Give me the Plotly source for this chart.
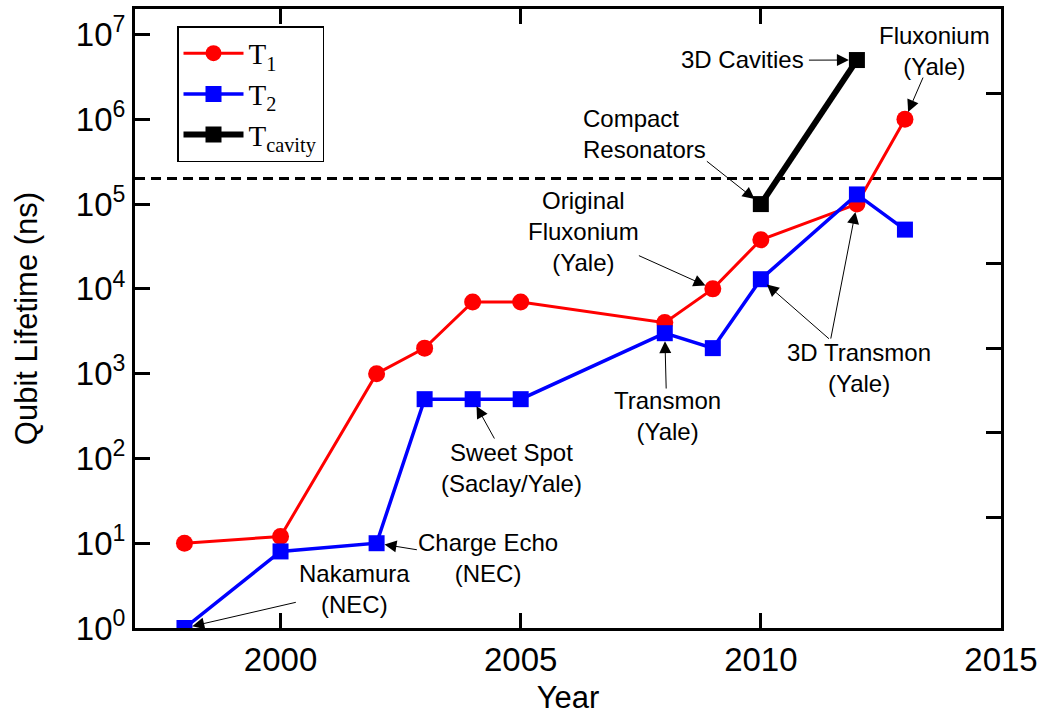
import numpy as np
import plotly.graph_objects as go

# ---------------- data ----------------
years_t1 = [1998, 2000, 2002, 2003, 2004, 2005, 2008, 2009, 2010, 2012, 2013]
t1_ns = [10, 12, 1000, 2000, 7000, 7000, 4000, 10000, 38000, 100000, 1000000]

years_t2 = [1998, 2000, 2002, 2003, 2004, 2005, 2008, 2009, 2010, 2012, 2013]
t2_ns = [1, 8, 10, 500, 500, 500, 3000, 2000, 13000, 130000, 50000]

years_cav = [2010, 2012]
tcav_ns = [100000, 5000000]

threshold_ns = 2e5

x_ticks = [2000, 2005, 2010, 2015]
y_ticks = [1, 10, 100, 1000, 1e4, 1e5, 1e6, 1e7]
y_ticktext = ["10<sup>%d</sup>" % i for i in range(8)]
right_ticks = [20, 200, 2000, 2e4, 2e5, 2e6]

x_range = [1996.97, 2015]
y_range_log = [0, np.log10(2e7)]

FONT = "Liberation Sans, Arial, sans-serif"
SERIF = "Liberation Serif, Times New Roman, serif"

fig = go.Figure()

fig.add_trace(go.Scatter(
    x=x_range, y=[threshold_ns, threshold_ns], mode="lines",
    line=dict(color="black", width=3, dash="10px,6px"),
    showlegend=False, hoverinfo="skip"))

fig.add_trace(go.Scatter(
    x=years_t1, y=t1_ns, mode="lines+markers", name="T<sub>1</sub>",
    line=dict(color="#ff0000", width=3),
    marker=dict(symbol="circle", size=17, color="#ff0000")))

fig.add_trace(go.Scatter(
    x=years_t2, y=t2_ns, mode="lines+markers", name="T<sub>2</sub>",
    line=dict(color="#0000ff", width=3.5),
    marker=dict(symbol="square", size=16, color="#0000ff")))

fig.add_trace(go.Scatter(
    x=years_cav, y=tcav_ns, mode="lines+markers", name="T<sub>cavity</sub>",
    line=dict(color="black", width=6),
    marker=dict(symbol="square", size=16, color="black")))

# invisible trace to anchor right-side tick axis
fig.add_trace(go.Scatter(x=[x_range[0]], y=[right_ticks[0]], yaxis="y2",
                         mode="markers", marker=dict(opacity=0),
                         showlegend=False, hoverinfo="skip"))

L = np.log10

# text labels: (text, x, ylog, xanchor, align)
labels = [
    ("Nakamura<br>(NEC)", 2001.55, 0.46, "center", "center"),
    ("Charge Echo<br>(NEC)", 2004.31, 0.82, "center", "center"),
    ("Sweet Spot<br>(Saclay/Yale)", 2004.80, 1.89, "center", "center"),
    ("Transmon<br>(Yale)", 2008.06, 2.50, "center", "center"),
    ("Original<br>Fluxonium<br>(Yale)", 2006.30, 4.68, "center", "center"),
    ("Compact<br>Resonators", 2006.25, 5.825, "left", "left"),
    ("3D Cavities", 2010.93, 6.70, "right", "right"),
    ("Fluxonium<br>(Yale)", 2013.62, 6.80, "center", "center"),
    ("3D Transmon<br>(Yale)", 2012.04, 3.07, "center", "center"),
]
for txt, xx, yy, xa, al in labels:
    fig.add_annotation(x=xx, y=yy, xref="x", yref="y", text=txt, showarrow=False,
                       xanchor=xa, yanchor="middle", align=al,
                       font=dict(family=FONT, size=24, color="black"))

# arrows: (tail x, tail ylog, tip x, tip value)
arrows = [
    (2000.35, 0.307, years_t2[0], t2_ns[0]),
    (2002.87, 0.92, years_t2[2], t2_ns[2]),
    (2004.47, 2.217, years_t2[4], t2_ns[4]),
    (2008.03, 2.807, years_t2[6], t2_ns[6]),
    (2007.43, 4.40, years_t1[7], t1_ns[7]),
    (2008.845, 5.519, years_cav[0], tcav_ns[0]),
    (2010.97, 6.698, years_cav[1], tcav_ns[1]),
    (2013.39, 6.51, years_t1[10], t1_ns[10]),
    (2011.45, 3.396, years_t2[8], t2_ns[8]),
    (2011.45, 3.396, years_t1[9], t1_ns[9]),
]
for tx, ty, px, pv in arrows:
    fig.add_annotation(x=px, y=L(pv), xref="x", yref="y",
                       ax=tx, ay=ty, axref="x", ayref="y", text="",
                       showarrow=True, arrowhead=2, arrowsize=2.4, arrowwidth=1,
                       arrowcolor="black", standoff=8)

fig.update_layout(
    width=1045, height=715,
    margin=dict(l=135, r=44, t=9, b=87),
    paper_bgcolor="white", plot_bgcolor="white",
    font=dict(family=FONT, size=30, color="black"),
    showlegend=True,
    legend=dict(x=0.0485, y=0.972, xanchor="left", yanchor="top",
                bgcolor="white", bordercolor="black", borderwidth=1.5,
                font=dict(family=SERIF, size=29, color="black"),
                itemwidth=60, tracegroupgap=0),
    xaxis=dict(range=x_range, tickvals=x_ticks, ticks="inside", ticklen=15,
               tickwidth=3, tickcolor="black", showline=True, linewidth=3,
               linecolor="black", mirror="ticks", showgrid=False, zeroline=False,
               automargin=False,
               tickfont=dict(size=33), title=dict(text="Year", font=dict(size=31), standoff=12)),
    yaxis=dict(type="log", range=y_range_log, tickvals=y_ticks, ticktext=y_ticktext,
               ticks="inside", ticklen=15, tickwidth=3, tickcolor="black",
               showline=True, linewidth=3, linecolor="black", showgrid=False,
               zeroline=False, automargin=False, tickfont=dict(size=33),
               title=dict(text="Qubit Lifetime (ns)", font=dict(size=31), standoff=29)),
    yaxis2=dict(type="log", range=y_range_log, overlaying="y", side="right",
                anchor="x", tickvals=right_ticks, ticks="inside", ticklen=15,
                tickwidth=3, tickcolor="black", showline=True, linewidth=3,
                linecolor="black", showticklabels=False, showgrid=False,
                zeroline=False, automargin=False),
)

fig.write_html("out.html")
